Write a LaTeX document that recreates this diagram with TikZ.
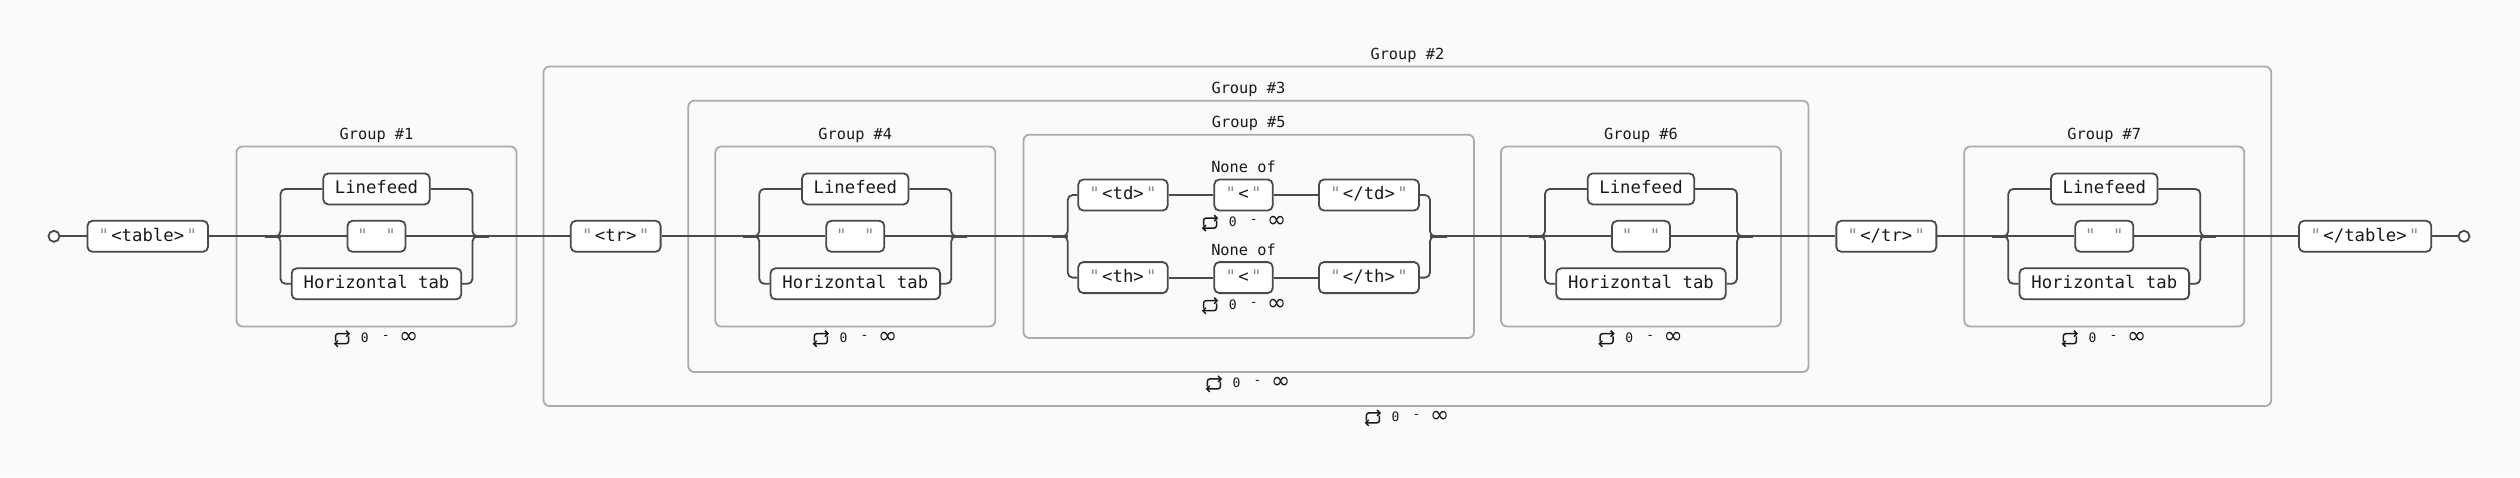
\documentclass[tikz,border=0pt]{standalone}
\usepackage{fontspec}
\setmonofont{DejaVu Sans Mono}
\newfontfamily\symfont{DejaVu Sans}
\usetikzlibrary{arrows.meta}
\definecolor{bg}{HTML}{FAFAFA}
\definecolor{stroke}{HTML}{4A4A4A}
\definecolor{grp}{HTML}{ABABAB}
\definecolor{txt}{HTML}{1A1A1A}
\definecolor{quot}{HTML}{8A8A8A}
\newcommand{\qm}{\textcolor{quot}{"}}
\newcommand{\qt}[1]{\qm\hspace{2.3pt}#1\hspace{2.3pt}\qm}
\tikzset{
  conn/.style={draw=stroke, line width=1.8pt},
  junc/.style={draw=stroke, line width=3.2pt},
  tok/.style={draw=stroke, line width=1.8pt, rounded corners=5pt, fill=white,
    minimum height=31pt, inner sep=0pt, text height=12.6pt, text depth=2.8pt,
    text=txt, font=\ttfamily\fontsize{17.3}{20}\selectfont, anchor=center},
  grpbox/.style={draw=grp, line width=1.8pt, rounded corners=6pt},
  grplabel/.style={font=\ttfamily\fontsize{15.3}{18}\selectfont, text=txt, anchor=base, inner sep=0pt},
  term/.style={circle, draw=stroke, line width=1.8pt, minimum size=11pt, inner sep=0pt, fill=white},
  reptxt/.style={font=\ttfamily\fontsize{13}{15}\selectfont, text=txt, inner sep=0pt},
  inftxt/.style={font=\symfont\fontsize{23}{23}\selectfont, text=txt, inner sep=0pt},
  repicon/.style={draw=txt, line width=1.5pt, rounded corners=2.5pt, -{Straight Barb[length=3pt,width=6pt]}},
  pics/rep/.style={code={
    \draw[repicon] (-41,4) -- (-41,-3.6) -- (-26.3,-3.6);
    \draw[repicon] (-28,-1) -- (-28,6.4) -- (-42.7,6.4);
    \node[reptxt] (-z) at (-11.8,0) {0};
    \node[reptxt] (-d) at (9.2,0) {-};
    \node[inftxt] (-i) at (32.3,0.3) {∞};
  }}
}
\newcommand{\wsgroup}[3]{%
  \draw[grpbox] ({#2-140},146.5) rectangle ({#2+140},326.5);
  \node[grplabel] (#1lab) at (#2,139.5) {#3};
  \node[tok, minimum width=106.5pt] (#1lf) at (#2,188.9) {Linefeed};
  \node[tok, minimum width=58pt] (#1sp) at (#2,236.3) {\qm\hspace{17.6pt}\qm};
  \node[tok, minimum width=169.6pt] (#1ht) at (#2,283.8) {Horizontal tab};
  \coordinate (#1jl) at ({#2-112},236.3);
  \coordinate (#1bl) at ({#2-96},236.3);
  \coordinate (#1br) at ({#2+96},236.3);
  \coordinate (#1jr) at ({#2+112},236.3);
  \draw[conn, rounded corners=5pt] (#1lf.west) -- (#1bl |- #1lf.west) -- (#1bl) -- ++(-8,0);
  \draw[conn, rounded corners=5pt] (#1ht.west) -- (#1bl |- #1ht.west) -- (#1bl) -- ++(-8,0);
  \draw[conn, rounded corners=5pt] (#1lf.east) -- (#1br |- #1lf.east) -- (#1br) -- ++(8,0);
  \draw[conn, rounded corners=5pt] (#1ht.east) -- (#1br |- #1ht.east) -- (#1br) -- ++(8,0);
  \draw[conn] (#1bl) -- (#1sp);
  \draw[conn] (#1sp) -- (#1br);
  \draw[junc] (#1jl) -- (#1bl);
  \draw[junc] (#1br) -- (#1jr);
  \pic (#1rep) at (#2,337.3) {rep};
}
\begin{document}
\begin{tikzpicture}[x=1pt, y=-1pt]
\fill[bg] (0,0) rectangle (2520,477);
\useasboundingbox (0,0) rectangle (2520,477);

% outer groups
\draw[grpbox] (543.5,66.5) rectangle (2271.2,406);
\node[grplabel] (g2lab) at (1407.4,59.5) {Group \#2};
\pic (g2rep) at (1407.4,416.5) {rep};
\draw[grpbox] (688.3,100.7) rectangle (1808.5,372);
\node[grplabel] (g3lab) at (1248.4,93.7) {Group \#3};
\pic (g3rep) at (1248.4,382.5) {rep};

% whitespace groups
\wsgroup{ga}{376.5}{Group \#1}
\wsgroup{gd}{855.3}{Group \#4}
\wsgroup{gf}{1641}{Group \#6}
\wsgroup{gg}{2104.3}{Group \#7}

% group 5
\draw[grpbox] (1023.5,134.7) rectangle (1474,338);
\node[grplabel] (g5lab) at (1248.75,127.7) {Group \#5};
\node[tok, minimum width=89.4pt] (td) at (1123,195) {\qt{<td>}};
\node[tok, minimum width=58.4pt] (lta) at (1243.5,195) {\qt{<}};
\node[tok, minimum width=100pt] (ctd) at (1369,195) {\qt{</td>}};
\node[tok, minimum width=89.4pt] (th) at (1123,277.6) {\qt{<th>}};
\node[tok, minimum width=58.4pt] (ltb) at (1243.5,277.6) {\qt{<}};
\node[tok, minimum width=100pt] (cth) at (1369,277.6) {\qt{</th>}};
\node[grplabel] (nonea) at (1243.5,172.3) {None of};
\node[grplabel] (noneb) at (1243.5,255) {None of};
\pic (repa) at (1244.5,221.7) {rep};
\pic (repb) at (1244.5,304.3) {rep};
\coordinate (g5jl) at (1051.7,236.3);
\coordinate (g5bl) at (1067.7,236.3);
\coordinate (g5br) at (1430,236.3);
\coordinate (g5jr) at (1446.7,236.3);
\draw[conn, rounded corners=5pt] (td.west) -- (g5bl |- td.west) -- (g5bl) -- ++(-8,0);
\draw[conn, rounded corners=5pt] (th.west) -- (g5bl |- th.west) -- (g5bl) -- ++(-8,0);
\draw[conn, rounded corners=5pt] (ctd.east) -- (g5br |- ctd.east) -- (g5br) -- ++(8,0);
\draw[conn, rounded corners=5pt] (cth.east) -- (g5br |- cth.east) -- (g5br) -- ++(8,0);
\draw[conn] (td) -- (lta);
\draw[conn] (lta) -- (ctd);
\draw[conn] (th) -- (ltb);
\draw[conn] (ltb) -- (cth);
\draw[junc] (g5jl) -- (g5bl);
\draw[junc] (g5br) -- (g5jr);

% main sequence
\node[term] (sc) at (54,236.3) {};
\node[tok, minimum width=120.5pt] (tbl) at (147.75,236.3) {\qt{<table>}};
\node[tok, minimum width=89.8pt] (tr) at (615.7,236.3) {\qt{<tr>}};
\node[tok, minimum width=100pt] (ctr) at (1886.35,236.3) {\qt{</tr>}};
\node[tok, minimum width=132.2pt] (ctbl) at (2365.1,236.3) {\qt{</table>}};
\node[term] (ec) at (2464,236.3) {};

\draw[conn] (sc) -- (tbl);
\draw[conn] (tbl) -- (gajl);
\draw[conn] (gajr) -- (tr);
\draw[conn] (tr) -- (gdjl);
\draw[conn] (gdjr) -- (g5jl);
\draw[conn] (g5jr) -- (gfjl);
\draw[conn] (gfjr) -- (ctr);
\draw[conn] (ctr) -- (ggjl);
\draw[conn] (ggjr) -- (ctbl);
\draw[conn] (ctbl) -- (ec);
\end{tikzpicture}
\end{document}
